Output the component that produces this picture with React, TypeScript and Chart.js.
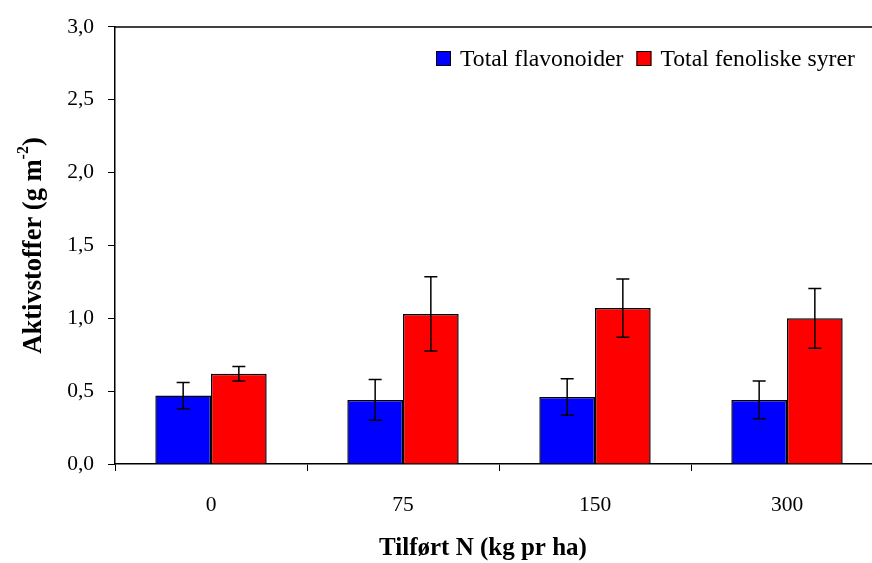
import React, { useEffect, useRef } from 'react';
import { Chart, registerables } from 'chart.js';

Chart.register(...registerables);

const categories = ['0', '75', '150', '300'];
const seriesLabels = ['Total flavonoider', 'Total fenoliske syrer'];
const flavonoider = [0.47, 0.44, 0.46, 0.44];
const flavonoiderErr = [0.09, 0.14, 0.125, 0.13];
const fenolsyrer = [0.62, 1.03, 1.07, 1.0];
const fenolsyrerErr = [0.05, 0.255, 0.2, 0.205];
const yTicks = [0, 0.5, 1, 1.5, 2, 2.5, 3];
const seriesColors = ['#0000FF', '#FF0000'];
const xTitle = 'Tilført N (kg pr ha)';
const yTitleMain = 'Aktivstoffer (g m';
const yTitleSup = '-2';
const yTitleEnd = ')';

const FONT = '"Liberation Serif", "Times New Roman", serif';

const errorBarPlugin = {
  id: 'errorBars',
  afterDatasetsDraw(chart: any) {
    const ctx = chart.ctx;
    const ys = chart.scales.y;
    chart.data.datasets.forEach((ds: any, i: number) => {
      const meta = chart.getDatasetMeta(i);
      meta.data.forEach((el: any, j: number) => {
        const v = ds.data[j];
        const e = ds.errors[j];
        const x = el.x;
        const yt = ys.getPixelForValue(v + e);
        const yb = ys.getPixelForValue(v - e);
        ctx.save();
        ctx.strokeStyle = '#000';
        ctx.lineWidth = 1.5;
        ctx.beginPath();
        ctx.moveTo(x, yt);
        ctx.lineTo(x, yb);
        ctx.moveTo(x - 6.5, yt);
        ctx.lineTo(x + 6.5, yt);
        ctx.moveTo(x - 6.5, yb);
        ctx.lineTo(x + 6.5, yb);
        ctx.stroke();
        ctx.restore();
      });
    });
  },
};

const decorPlugin = {
  id: 'decor',
  afterDraw(chart: any) {
    const ctx = chart.ctx;
    const ca = chart.chartArea;
    ctx.save();
    // top border
    ctx.strokeStyle = '#000';
    ctx.lineWidth = 1.5;
    ctx.beginPath();
    ctx.moveTo(ca.left, ca.top);
    ctx.lineTo(ca.right, ca.top);
    ctx.stroke();

    // legend
    const legendX = 436;
    const legendY = 51;
    ctx.font = `23.7px ${FONT}`;
    ctx.textBaseline = 'middle';
    ctx.textAlign = 'left';
    let x = legendX;
    chart.data.datasets.forEach((ds: any) => {
      ctx.fillStyle = ds.backgroundColor;
      ctx.fillRect(x, legendY, 15, 15);
      ctx.strokeStyle = '#000';
      ctx.lineWidth = 1;
      ctx.strokeRect(x + 0.5, legendY + 0.5, 14, 14);
      ctx.fillStyle = '#000';
      ctx.fillText(ds.label, x + 24, legendY + 9);
      x += 24 + ctx.measureText(ds.label).width + 13;
    });

    // x title
    ctx.font = `bold 25px ${FONT}`;
    ctx.textAlign = 'center';
    ctx.textBaseline = 'middle';
    ctx.fillStyle = '#000';
    ctx.fillText(xTitle, 483, 549);

    // y title rotated with superscript
    ctx.translate(32, (ca.top + ca.bottom) / 2);
    ctx.rotate(-Math.PI / 2);
    const mainFont = `bold 26.5px ${FONT}`;
    const supFont = `bold 16px ${FONT}`;
    ctx.font = mainFont;
    const w1 = ctx.measureText(yTitleMain).width;
    const w3 = ctx.measureText(yTitleEnd).width;
    ctx.font = supFont;
    const w2 = ctx.measureText(yTitleSup).width;
    const total = w1 + w2 + w3;
    let sx = -total / 2;
    ctx.textAlign = 'left';
    ctx.textBaseline = 'alphabetic';
    ctx.font = mainFont;
    ctx.fillText(yTitleMain, sx, 9);
    sx += w1;
    ctx.font = supFont;
    ctx.fillText(yTitleSup, sx, -4);
    sx += w2;
    ctx.font = mainFont;
    ctx.fillText(yTitleEnd, sx, 9);
    ctx.restore();
  },
};

export default function App() {
  const ref = useRef<HTMLCanvasElement>(null);

  useEffect(() => {
    if (!ref.current) return;
    const chart = new Chart(ref.current, {
      type: 'bar',
      data: {
        labels: categories,
        datasets: [
          {
            label: seriesLabels[0],
            data: flavonoider,
            errors: flavonoiderErr,
            backgroundColor: seriesColors[0],
            borderColor: '#000',
            borderWidth: 1.5,
            categoryPercentage: 0.58,
            barPercentage: 1,
          } as any,
          {
            label: seriesLabels[1],
            data: fenolsyrer,
            errors: fenolsyrerErr,
            backgroundColor: seriesColors[1],
            borderColor: '#000',
            borderWidth: 1.5,
            categoryPercentage: 0.58,
            barPercentage: 1,
          } as any,
        ],
      },
      options: {
        animation: false,
        responsive: false,
        devicePixelRatio: 1,
        layout: { padding: { top: 24, right: 1, left: 0, bottom: 0 } },
        plugins: {
          legend: { display: false },
          tooltip: { enabled: false },
          title: { display: false },
        },
        scales: {
          x: {
            offset: true,
            grid: {
              offset: true,
              drawOnChartArea: false,
              drawTicks: true,
              tickLength: 7,
              color: '#000',
            },
            border: { display: true, color: '#000', width: 1.5 },
            ticks: {
              color: '#000',
              font: { family: FONT, size: 21.5 },
              padding: 21,
              maxRotation: 0,
            },
            afterFit: (s: any) => {
              s.height = 99;
            },
          },
          y: {
            min: 0,
            max: 3,
            afterBuildTicks: (s: any) => {
              s.ticks = yTicks.map((v) => ({ value: v }));
            },
            grid: {
              drawOnChartArea: false,
              drawTicks: true,
              tickLength: 7,
              color: '#000',
            },
            border: { display: true, color: '#000', width: 1.5 },
            ticks: {
              color: '#000',
              font: { family: FONT, size: 21.5 },
              padding: 14,
              callback: (v: any) => Number(v).toFixed(1).replace('.', ','),
            },
            afterFit: (s: any) => {
              s.width = 115;
            },
          },
        },
      },
      plugins: [errorBarPlugin, decorPlugin],
    } as any);
    return () => chart.destroy();
  }, []);

  return (
    <div
      style={{
        position: 'absolute',
        left: 0,
        top: 0,
        width: 872,
        height: 563,
        overflow: 'hidden',
        background: '#fff',
      }}
    >
      <canvas
        ref={ref}
        width={884}
        height={563}
        style={{ display: 'block', width: 884, height: 563 }}
      />
    </div>
  );
}
